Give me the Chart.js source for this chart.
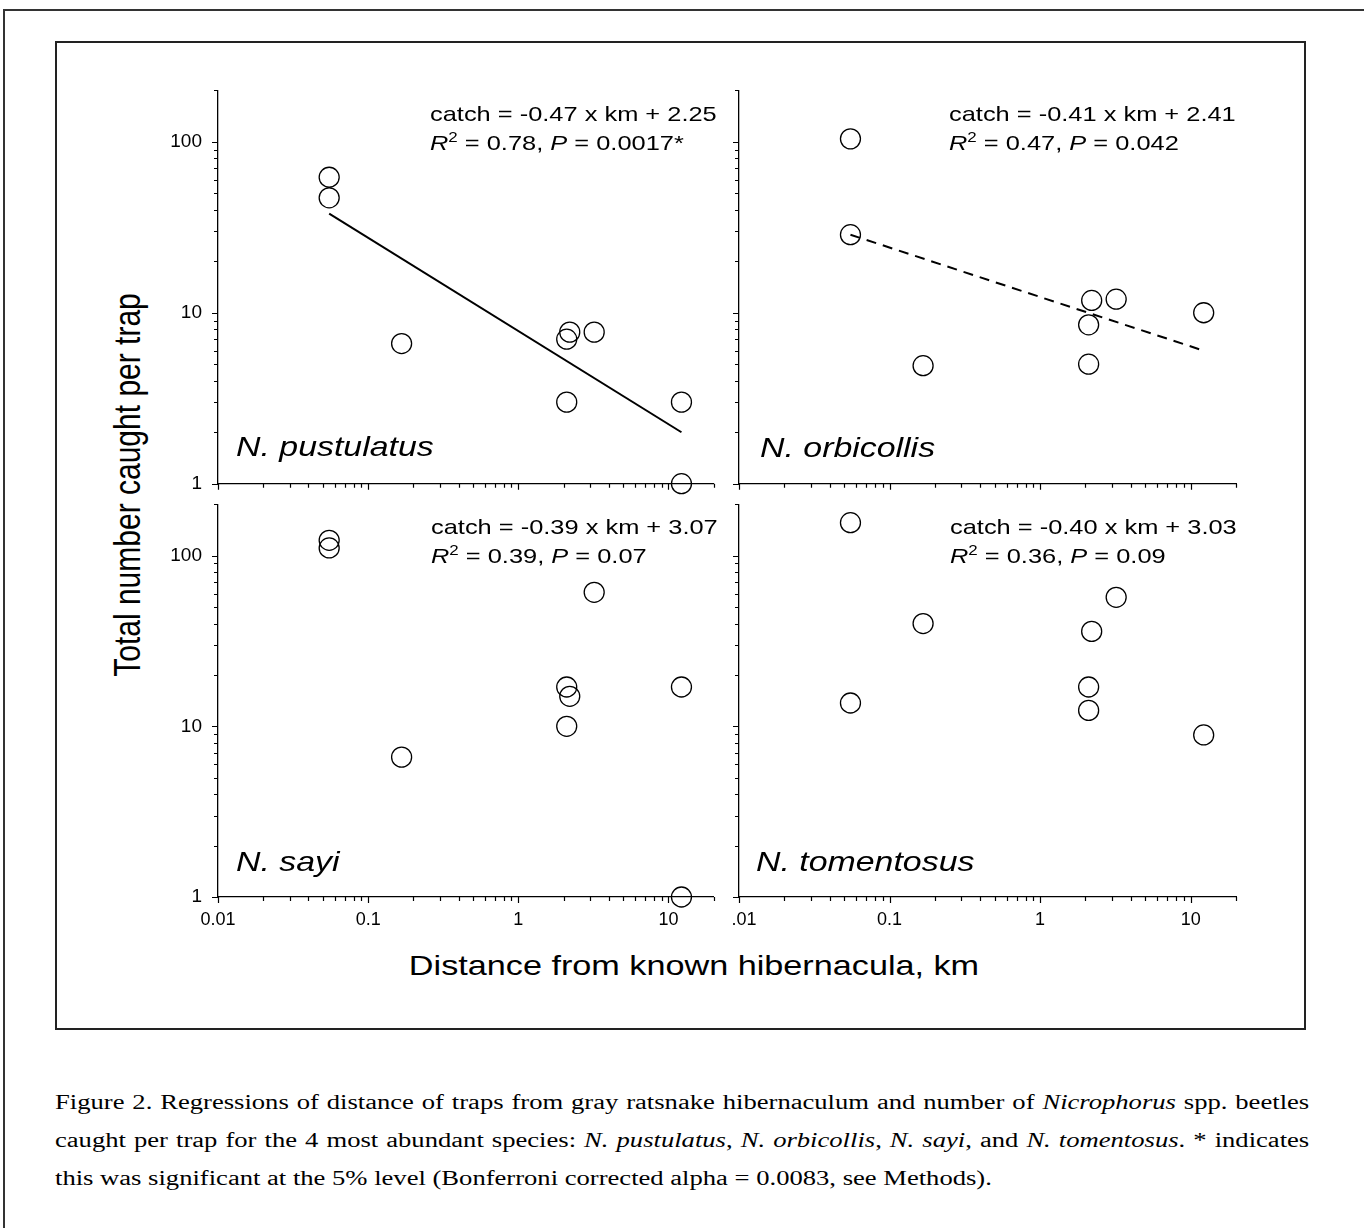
<!DOCTYPE html>
<html>
<head>
<meta charset="utf-8">
<script src="https://cdn.jsdelivr.net/npm/chart.js@4.4.1/dist/chart.umd.min.js"></script>
<style>
  html, body { margin:0; padding:0; background:#fff; }
  body { width:1364px; height:1228px; overflow:hidden; position:relative; font-family:"Liberation Sans", Arial, sans-serif; color:#000; }
  #outer { position:absolute; left:3px; top:9px; width:1420px; height:1300px; border:2px solid #333; box-sizing:border-box; }
  #inner { position:absolute; left:55px; top:41px; width:1251px; height:989px; border:2px solid #222; box-sizing:border-box; }
  canvas { position:absolute; }
  #ytitle { position:absolute; left:128px; top:485px; white-space:nowrap; font-size:30px; line-height:30px;
            transform:translate(-50%,-50%) rotate(-90deg) scaleY(1.2); }
  #xtitle { position:absolute; left:694px; top:965px; white-space:nowrap; font-size:28.5px; line-height:30px;
            transform:translate(-50%,-50%) scaleX(1.2); }
  .cap { position:absolute; left:55px; width:943px; white-space:nowrap; font-family:"Liberation Serif","Times New Roman",serif;
         font-size:20px; line-height:38px; height:38px; transform-origin:0 0; transform:scaleX(1.33); }
  .just { text-align:justify; text-align-last:justify; }
</style>
</head>
<body>
<div id="outer"></div>
<div id="inner"></div>
<canvas id="cA"></canvas>
<canvas id="cB"></canvas>
<canvas id="cC"></canvas>
<canvas id="cD"></canvas>
<div id="ytitle">Total number caught per trap</div>
<div id="xtitle">Distance from known hibernacula, km</div>
<div class="cap just" style="top:1083px">Figure 2. Regressions of distance of traps from gray ratsnake hibernaculum and number of <i>Nicrophorus</i> spp. beetles</div>
<div class="cap just" style="top:1121px">caught per trap for the 4 most abundant species: <i>N. pustulatus</i>, <i>N. orbicollis</i>, <i>N. sayi</i>, and <i>N. tomentosus</i>. * indicates</div>
<div class="cap" style="top:1159px">this was significant at the 5% level (Bonferroni corrected alpha = 0.0083, see Methods).</div>
<script>
// ---------- data ----------
const xTickValues = [0.01, 0.1, 1, 10];
const yTickValues = [1, 10, 100];
const xRange = [0.01, 20];
const yRange = [1, 200];

const speciesNames = ["N. pustulatus", "N. orbicollis", "N. sayi", "N. tomentosus"];
const equations = ["catch = -0.47 x km + 2.25", "catch = -0.41 x km + 2.41", "catch = -0.39 x km + 3.07", "catch = -0.40 x km + 3.03"];
const r2Values = ["0.78", "0.47", "0.39", "0.36"];
const pValues = ["0.0017*", "0.042", "0.07", "0.09"];

const pustulatusKm    = [0.055, 0.055, 0.167, 2.1, 2.2, 3.2, 2.1, 12.2, 12.2];
const pustulatusCatch = [62, 47, 6.6, 7.0, 7.7, 7.7, 3.0, 3.0, 1.0];
const orbicollisKm    = [0.055, 0.055, 0.167, 2.2, 3.2, 2.1, 2.1, 12.2];
const orbicollisCatch = [104, 28.6, 4.9, 11.8, 12.0, 8.5, 5.0, 10.0];
const sayiKm          = [0.055, 0.055, 3.2, 2.1, 2.2, 2.1, 0.167, 12.2, 12.2];
const sayiCatch       = [123, 111, 61, 17, 15, 10, 6.6, 17, 1.0];
const tomentosusKm    = [0.055, 0.167, 3.2, 2.2, 0.055, 2.1, 2.1, 12.2];
const tomentosusCatch = [156, 40, 57, 36, 13.7, 17, 12.4, 8.9];

const pustulatusFitKm    = [0.055, 12.2];
const pustulatusFitCatch = [38, 2.0];
const orbicollisFitKm    = [0.055, 12.2];
const orbicollisFitCatch = [28.6, 6.0];

// ---------- helpers ----------
const FONT = '"Liberation Sans", Arial, sans-serif';
const zip = (xs, ys) => xs.map((x, i) => ({ x: x, y: ys[i] }));

function minorValues(majors, max) {
  const out = [];
  majors.forEach(d => { for (let k = 2; k <= 9; k++) { const v = d * k; if (v <= max * 1.0001) out.push(v); } });
  return out;
}

const tickPlugin = {
  id: 'tickmarks',
  afterDraw(chart) {
    const ctx = chart.ctx, xs = chart.scales.x, ys = chart.scales.y, ca = chart.chartArea;
    ctx.save();
    ctx.strokeStyle = '#000';
    ctx.lineWidth = 1.2;
    ctx.beginPath();
    const seg = (x1, y1, x2, y2) => { ctx.moveTo(x1, y1); ctx.lineTo(x2, y2); };
    xTickValues.forEach(v => { const p = Math.round(xs.getPixelForValue(v)) + 0.5; seg(p, ca.bottom, p, ca.bottom + 6); });
    minorValues(xTickValues, xRange[1]).forEach(v => { const p = Math.round(xs.getPixelForValue(v)) + 0.5; seg(p, ca.bottom, p, ca.bottom + 4); });
    yTickValues.forEach(v => { const p = Math.round(ys.getPixelForValue(v)) + 0.5; seg(ca.left, p, ca.left - 6, p); });
    minorValues(yTickValues, yRange[1]).forEach(v => { const p = Math.round(ys.getPixelForValue(v)) + 0.5; seg(ca.left, p, ca.left - 4, p); });
    ctx.stroke();
    ctx.restore();
  }
};

const annotPlugin = {
  id: 'annot',
  afterDraw(chart, args, o) {
    const ctx = chart.ctx, ca = chart.chartArea, sx = 1.21;
    const runs = (list, x, y) => {
      ctx.save(); ctx.translate(x, y); ctx.scale(sx, 1);
      let cx = 0;
      list.forEach(r => { ctx.font = r.f; ctx.fillText(r.t, cx, r.dy || 0); cx += ctx.measureText(r.t).width; });
      ctx.restore();
    };
    ctx.save();
    ctx.fillStyle = '#000';
    ctx.textBaseline = 'alphabetic';
    const n = '21px ' + FONT, it = 'italic 21px ' + FONT, sup = '14px ' + FONT;
    runs([{ t: o.eq, f: n }], ca.left + o.eqDx, ca.top + o.eqDy);
    runs([{ t: 'R', f: it }, { t: '2', f: sup, dy: -8 }, { t: ' = ' + o.r2 + ', ', f: n }, { t: 'P', f: it }, { t: ' = ' + o.p, f: n }],
         ca.left + o.eqDx, ca.top + o.eqDy + 28.5);
    runs([{ t: o.name, f: 'italic 28px ' + FONT }], ca.left + o.spDx, ca.top + o.spDy);
    ctx.restore();
  }
};

function makeChart(id, c) {
  const cv = document.getElementById(id);
  cv.width = c.w; cv.height = c.h;
  cv.style.left = c.left + 'px'; cv.style.top = c.top + 'px';
  cv.style.width = c.w + 'px'; cv.style.height = c.h + 'px';
  if (c.clipLeft) cv.style.clipPath = 'inset(0 0 0 ' + c.clipLeft + 'px)';
  const datasets = [{
    data: zip(c.km, c.catchVals),
    pointRadius: 10, pointHoverRadius: 10,
    pointBorderWidth: 1.3, pointBorderColor: '#000', pointBackgroundColor: 'rgba(0,0,0,0)',
    showLine: false, clip: false
  }];
  if (c.fitKm) {
    datasets.push({
      data: zip(c.fitKm, c.fitCatch), showLine: true, pointRadius: 0,
      borderColor: '#000', borderWidth: 2, borderDash: c.dash || [], clip: false
    });
  }
  const hidden = 'rgba(0,0,0,0)';
  return new Chart(cv, {
    type: 'scatter',
    data: { datasets: datasets },
    options: {
      responsive: false, animation: false, devicePixelRatio: 1,
      layout: { padding: { left: 0, right: c.padR, top: 10, bottom: 0 } },
      plugins: {
        legend: { display: false }, tooltip: { enabled: false },
        annot: { eq: c.eq, r2: c.r2, p: c.p, name: c.name, eqDx: c.eqDx, eqDy: c.eqDy, spDx: c.spDx, spDy: c.spDy }
      },
      scales: {
        x: {
          type: 'logarithmic', min: xRange[0], max: xRange[1], position: 'bottom',
          grid: { display: true, drawOnChartArea: false, drawTicks: true, tickLength: 14, tickColor: hidden, color: hidden },
          border: { display: true, color: '#000', width: 1.3 },
          ticks: { display: c.showX, color: '#000', font: { family: FONT, size: 18, lineHeight: 1 }, padding: 0, maxRotation: 0, autoSkip: false,
                   callback: v => String(v) },
          afterBuildTicks: s => { s.ticks = xTickValues.map(v => ({ value: v })); },
          afterFit: s => { s.height = c.xH; }
        },
        y: {
          type: 'logarithmic', min: yRange[0], max: yRange[1], position: 'left',
          grid: { display: true, drawOnChartArea: false, drawTicks: true, tickLength: 16, tickColor: hidden, color: hidden },
          border: { display: true, color: '#000', width: 1.3 },
          ticks: { display: c.showY, color: '#000', font: { family: FONT, size: 19, lineHeight: 1 }, padding: 0, autoSkip: false,
                   callback: v => String(v) },
          afterBuildTicks: s => { s.ticks = yTickValues.map(v => ({ value: v })); },
          afterFit: s => { s.width = c.yW; }
        }
      }
    },
    plugins: [tickPlugin, annotPlugin]
  });
}

makeChart('cA', { left: 150, top: 79, w: 575, h: 416, yW: 68, xH: 10, padR: 10, showX: false, showY: true,
  km: pustulatusKm, catchVals: pustulatusCatch, fitKm: pustulatusFitKm, fitCatch: pustulatusFitCatch,
  eq: equations[0], r2: r2Values[0], p: pValues[0], name: speciesNames[0], eqDx: 212, eqDy: 31, spDx: 18, spDy: 366 });
makeChart('cB', { left: 715, top: 79, w: 537, h: 416, yW: 24, xH: 10, padR: 16, showX: false, showY: false, clipLeft: 17,
  km: orbicollisKm, catchVals: orbicollisCatch, fitKm: orbicollisFitKm, fitCatch: orbicollisFitCatch, dash: [10, 7],
  eq: equations[1], r2: r2Values[1], p: pValues[1], name: speciesNames[1], eqDx: 210, eqDy: 31, spDx: 21, spDy: 367 });
makeChart('cC', { left: 150, top: 493, w: 575, h: 445, yW: 68, xH: 41, padR: 10, showX: true, showY: true,
  km: sayiKm, catchVals: sayiCatch,
  eq: equations[2], r2: r2Values[2], p: pValues[2], name: speciesNames[2], eqDx: 213, eqDy: 30, spDx: 18, spDy: 367 });
makeChart('cD', { left: 715, top: 493, w: 537, h: 445, yW: 24, xH: 41, padR: 16, showX: true, showY: false, clipLeft: 17,
  km: tomentosusKm, catchVals: tomentosusCatch,
  eq: equations[3], r2: r2Values[3], p: pValues[3], name: speciesNames[3], eqDx: 211, eqDy: 30, spDx: 17, spDy: 367 });
</script>
</body>
</html>
